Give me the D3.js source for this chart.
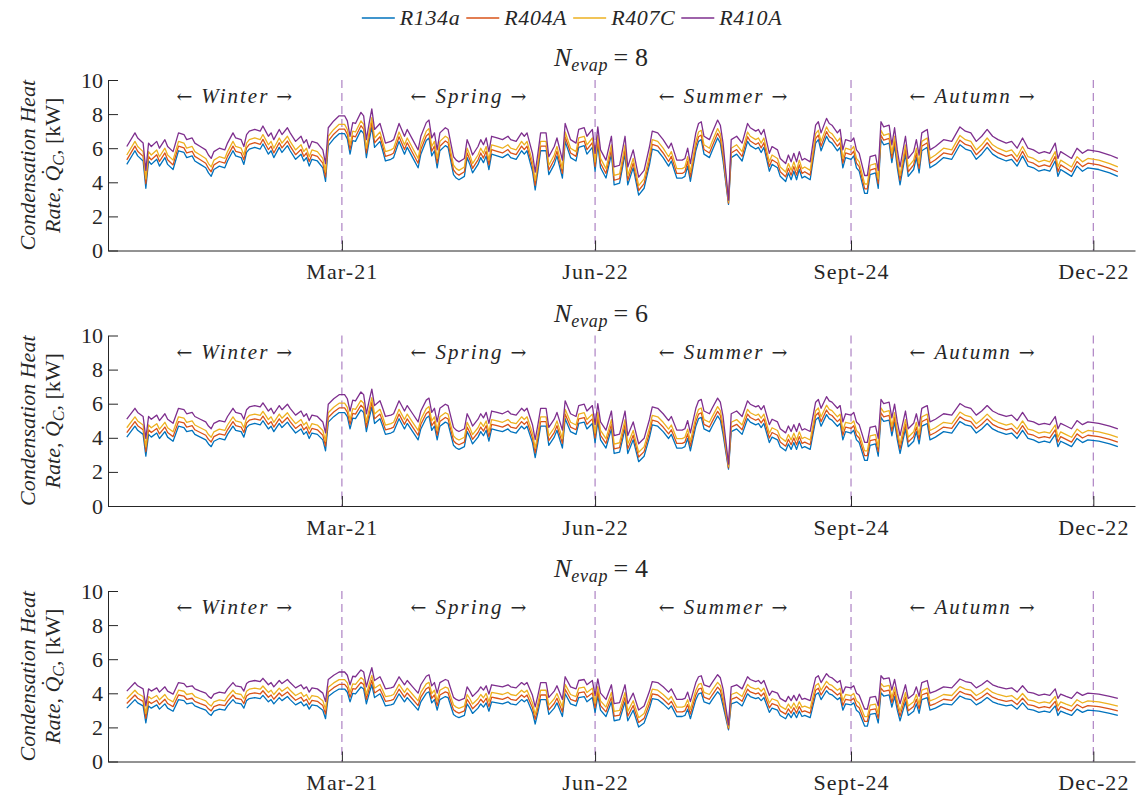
<!DOCTYPE html>
<html>
<head>
<meta charset="utf-8">
<title>Condensation heat rate</title>
<script src="https://cdn.jsdelivr.net/npm/d3@7"></script>
<style>
  html, body { margin: 0; padding: 0; background: #ffffff; }
  svg text { font-family: "Liberation Serif", "DejaVu Serif", serif; fill: #262626; }
</style>
</head>
<body>
<svg id="chart" width="1137" height="798"></svg>
<script>
// Day of year of each sample (shared by all series)
const days = [
  1,4,5,7,8,9,10,12,13,15, 16,18,20,22,23,25,26,28,30,31, 32,33,35,37,38,40,41,43,44,45,
  46,48,50,51,52,53,54,55,57,58, 60,61,63,65,66,67,68,69,71,73, 74,75,77,79,81,82,83,84,85,87,
  88,89,90,91,92,94,95,96,98,99, 101,103,104,106,108,109,111,112,113,114, 115,116,118,119,121,
  122,123,125,126,127,128,130,131,132,133, 134,135,137,139,141,142,144,146,147,148,
  150,151,152,153,155,156,158,159,161,162, 164,166,167,169,170,172,173,174,175,177,
  179,180,182,184,185,187,189,191,193,194, 196,198,200,201,203,205,206,207,208,210,
  211,212,213,215,216,218,219,220,222,223, 225,227,229,230,232,233,234,235,237,238, 240,241,243,
  244,245,246,247,248,249,250,252,254,255, 256,258,259,260,262,263,264,265,267,268,
  269,270,272,273,274,276,277,278,279,281, 282,283,284,285,287,288,290,291,292,293,
  294,295,296,298,301,304,307,309,311,313, 315,317,319,321,324,326,328,330,332,334,
  336,338,340,342,343,344,346,348,350,352, 354,358,362,365
];

// N_evap = 8, condensation heat rate [kW]
const n8_R134a = [
  5.05,5.85,5.55,5.25,3.65,5.25,5.05,5.35,4.95,5.45, 5.05,4.75,5.85,5.75,5.45,5.55,5.25,5.05,4.85,4.55,
  4.35,4.75,4.95,4.85,5.25,5.85,5.55,5.45,5.05,5.75, 5.95,6.05,5.95,6.25,5.95,5.65,5.85,5.45,6.05,5.75,
  6.15,5.85,5.35,5.65,5.25,5.45,4.95,5.35,5.25,4.85, 4.05,6.15,6.55,6.85,6.85,6.55,5.65,6.45,6.4,7.05,
  6.85,5.45,6.4,7.25,6.05,6.4,5.85,5.25,5.35,5.45, 6.4,5.65,6.05,5.45,4.85,5.65,6.45,6.6,5.55,5.85,
  4.85,5.85,6.15,6.05,4.45,
  4.25,4.15,4.35,5.45,5.05,4.55,5.05,5.45,5.15,5.55, 4.75,5.65,5.55,5.45,5.65,5.45,5.35,5.85,5.65,5.85,
  4.65,3.55,4.65,5.85,5.85,4.45,5.05,5.55,4.25,6.4, 5.45,5.25,6.05,6.15,5.65,6.05,4.65,6.2,4.85,4.25,
  5.65,3.85,3.95,5.65,3.85,4.85,3.25,3.65,5.05,5.95, 5.85,5.45,4.95,5.25,4.25,4.25,4.35,4.95,4.05,5.85,
  6.4,6.5,5.65,5.45,5.85,6.6,6.3,5.25,2.7,5.45, 5.65,5.25,6.4,6.15,5.95,6.05,5.75,6.05,4.65,5.05,
  4.85,4.35,4.05,
  4.55,4.15,4.65,4.15,4.75,4.25,4.35,4.15,6.3,6.5, 5.85,6.7,6.4,6.3,5.85,6.05,4.85,5.45,5.35,5.55,
  4.85,4.65,3.35,3.35,4.45,4.55,3.65,6.5,6.2,6.3, 5.15,6.15,4.85,3.85,5.65,4.35,4.75,5.45,4.55,5.85,
  5.95,6.05,4.85,5.05,5.45,5.35,6.2,5.95,5.85,5.35, 5.65,6.05,5.65,5.45,5.25,5.35,4.95,5.55,4.95,4.85,
  4.65,4.75,4.65,5.25,4.35,4.75,4.55,4.35,4.95,4.65, 4.85,4.75,4.55,4.35
];
const n8_R404A = [
  5.32,6.12,5.82,5.52,3.92,5.52,5.32,5.62,5.22,5.72, 5.32,5.02,6.12,6.02,5.72,5.82,5.52,5.32,5.12,4.82,
  4.62,5.02,5.22,5.12,5.52,6.12,5.82,5.72,5.32,6.02, 6.22,6.32,6.22,6.52,6.22,5.92,6.12,5.72,6.32,6.02,
  6.42,6.12,5.62,5.92,5.52,5.72,5.22,5.62,5.52,5.12, 4.32,6.42,6.82,7.12,7.12,6.82,5.92,6.72,6.67,7.32,
  7.12,5.72,6.67,7.52,6.32,6.67,6.12,5.52,5.62,5.72, 6.67,5.92,6.32,5.72,5.12,5.92,6.72,6.87,5.82,6.12,
  5.12,6.12,6.42,6.32,4.72,
  4.52,4.42,4.62,5.72,5.32,4.82,5.32,5.72,5.42,5.82, 5.02,5.92,5.82,5.72,5.92,5.72,5.62,6.12,5.92,6.12,
  4.92,3.82,4.92,6.12,6.12,4.72,5.32,5.82,4.52,6.67, 5.72,5.52,6.32,6.42,5.92,6.32,4.92,6.47,5.12,4.52,
  5.92,4.12,4.22,5.92,4.12,5.12,3.52,3.92,5.32,6.22, 6.12,5.72,5.22,5.52,4.52,4.52,4.62,5.22,4.32,6.12,
  6.67,6.77,5.92,5.72,6.12,6.87,6.57,5.52,2.78,5.72, 5.92,5.52,6.67,6.42,6.22,6.32,6.02,6.32,4.92,5.32,
  5.12,4.62,4.32,
  4.82,4.42,4.92,4.42,5.02,4.52,4.62,4.42,6.57,6.77, 6.12,6.97,6.67,6.57,6.12,6.32,5.12,5.72,5.62,5.82,
  5.12,4.92,3.62,3.62,4.72,4.82,3.92,6.77,6.47,6.57, 5.42,6.42,5.12,4.12,5.92,4.62,5.02,5.72,4.82,6.12,
  6.22,6.32,5.12,5.32,5.72,5.62,6.47,6.22,6.12,5.62, 5.92,6.32,5.92,5.72,5.52,5.62,5.22,5.82,5.22,5.12,
  4.92,5.02,4.92,5.52,4.62,5.02,4.82,4.62,5.22,4.92, 5.12,5.02,4.82,4.62
];
const n8_R407C = [
  5.6,6.4,6.1,5.8,4.2,5.8,5.6,5.9,5.5,6.0, 5.6,5.3,6.4,6.3,6.0,6.1,5.8,5.6,5.4,5.1,
  4.9,5.3,5.5,5.4,5.8,6.4,6.1,6.0,5.6,6.3, 6.5,6.6,6.5,6.8,6.5,6.2,6.4,6.0,6.6,6.3,
  6.7,6.4,5.9,6.2,5.8,6.0,5.5,5.9,5.8,5.4, 4.6,6.7,7.1,7.4,7.4,7.1,6.2,7.0,6.95,7.6,
  7.4,6.0,6.95,7.8,6.6,6.95,6.4,5.8,5.9,6.0, 6.95,6.2,6.6,6.0,5.4,6.2,7.0,7.15,6.1,6.4,
  5.4,6.4,6.7,6.6,5.0,
  4.8,4.7,4.9,6.0,5.6,5.1,5.6,6.0,5.7,6.1, 5.3,6.2,6.1,6.0,6.2,6.0,5.9,6.4,6.2,6.4,
  5.2,4.1,5.2,6.4,6.4,5.0,5.6,6.1,4.8,6.95, 6.0,5.8,6.6,6.7,6.2,6.6,5.2,6.75,5.4,4.8,
  6.2,4.4,4.5,6.2,4.4,5.4,3.8,4.2,5.6,6.5, 6.4,6.0,5.5,5.8,4.8,4.8,4.9,5.5,4.6,6.4,
  6.95,7.05,6.2,6.0,6.4,7.15,6.85,5.8,2.85,6.0, 6.2,5.8,6.95,6.7,6.5,6.6,6.3,6.6,5.2,5.6,
  5.4,4.9,4.6,
  5.1,4.7,5.2,4.7,5.3,4.8,4.9,4.7,6.85,7.05, 6.4,7.25,6.95,6.85,6.4,6.6,5.4,6.0,5.9,6.1,
  5.4,5.2,3.9,3.9,5.0,5.1,4.2,7.05,6.75,6.85, 5.7,6.7,5.4,4.4,6.2,4.9,5.3,6.0,5.1,6.4,
  6.5,6.6,5.4,5.6,6.0,5.9,6.75,6.5,6.4,5.9, 6.2,6.6,6.2,6.0,5.8,5.9,5.5,6.1,5.5,5.4,
  5.2,5.3,5.2,5.8,4.9,5.3,5.1,4.9,5.5,5.2, 5.4,5.3,5.1,4.9
];
const n8_R410A = [
  6.1,6.9,6.6,6.3,4.7,6.3,6.1,6.4,6.0,6.5, 6.1,5.8,6.9,6.8,6.5,6.6,6.3,6.1,5.9,5.6,
  5.4,5.8,6.0,5.9,6.3,6.9,6.6,6.5,6.1,6.8, 7.0,7.1,7.0,7.3,7.0,6.7,6.9,6.5,7.1,6.8,
  7.2,6.9,6.4,6.7,6.3,6.5,6.0,6.4,6.3,5.9, 5.1,7.2,7.6,7.9,7.9,7.6,6.7,7.5,7.45,8.1,
  7.9,6.5,7.45,8.3,7.1,7.45,6.9,6.3,6.4,6.5, 7.45,6.7,7.1,6.5,5.9,6.7,7.5,7.65,6.6,6.9,
  5.9,6.9,7.2,7.1,5.5,
  5.3,5.2,5.4,6.5,6.1,5.6,6.1,6.5,6.2,6.6, 5.8,6.7,6.6,6.5,6.7,6.5,6.4,6.9,6.7,6.9,
  5.7,4.6,5.7,6.9,6.9,5.5,6.1,6.6,5.3,7.45, 6.5,6.3,7.1,7.2,6.7,7.1,5.7,7.25,5.9,5.3,
  6.7,4.9,5.0,6.7,4.9,5.9,4.3,4.7,6.1,7.0, 6.9,6.5,6.0,6.3,5.3,5.3,5.4,6.0,5.1,6.9,
  7.45,7.55,6.7,6.5,6.9,7.65,7.35,6.3,2.95,6.5, 6.7,6.3,7.45,7.2,7.0,7.1,6.8,7.1,5.7,6.1,
  5.9,5.4,5.1,
  5.6,5.2,5.7,5.2,5.8,5.3,5.4,5.2,7.35,7.55, 6.9,7.75,7.45,7.35,6.9,7.1,5.9,6.5,6.4,6.6,
  5.9,5.7,4.4,4.4,5.5,5.6,4.7,7.55,7.25,7.35, 6.2,7.2,5.9,4.9,6.7,5.4,5.8,6.5,5.6,6.9,
  7.0,7.1,5.9,6.1,6.5,6.4,7.25,7.0,6.9,6.4, 6.7,7.1,6.7,6.5,6.3,6.4,6.0,6.6,6.0,5.9,
  5.7,5.8,5.7,6.3,5.4,5.8,5.6,5.4,6.0,5.7, 5.9,5.8,5.6,5.4
];

// N_evap = 6
const n6_R134a = [
  4.04,4.68,4.44,4.2,2.92,4.2,4.04,4.28,3.96,4.36, 4.04,3.8,4.68,4.6,4.36,4.44,4.2,4.04,3.88,3.64,
  3.48,3.8,3.96,3.88,4.2,4.68,4.44,4.36,4.04,4.6, 4.76,4.84,4.76,5.0,4.76,4.52,4.68,4.36,4.84,4.6,
  4.92,4.68,4.28,4.52,4.2,4.36,3.96,4.28,4.2,3.88, 3.24,4.92,5.24,5.48,5.48,5.24,4.52,5.16,5.12,5.64,
  5.48,4.36,5.12,5.8,4.84,5.12,4.68,4.2,4.28,4.36, 5.12,4.52,4.84,4.36,3.88,4.52,5.16,5.28,4.44,4.68,
  3.88,4.68,4.92,4.84,3.56,
  3.4,3.32,3.48,4.36,4.04,3.64,4.04,4.36,4.12,4.44, 3.8,4.52,4.44,4.36,4.52,4.36,4.28,4.68,4.52,4.68,
  3.72,2.84,3.72,4.68,4.68,3.56,4.04,4.44,3.4,5.12, 4.36,4.2,4.84,4.92,4.52,4.84,3.72,4.96,3.88,3.4,
  4.52,3.08,3.16,4.52,3.08,3.88,2.6,2.92,4.04,4.76, 4.68,4.36,3.96,4.2,3.4,3.4,3.48,3.96,3.24,4.68,
  5.12,5.2,4.52,4.36,4.68,5.28,5.04,4.2,2.16,4.36, 4.52,4.2,5.12,4.92,4.76,4.84,4.6,4.84,3.72,4.04,
  3.88,3.48,3.24,
  3.64,3.32,3.72,3.32,3.8,3.4,3.48,3.32,5.04,5.2, 4.68,5.36,5.12,5.04,4.68,4.84,3.88,4.36,4.28,4.44,
  3.88,3.72,2.68,2.68,3.56,3.64,2.92,5.2,4.96,5.04, 4.12,4.92,3.88,3.08,4.52,3.48,3.8,4.36,3.64,4.68,
  4.76,4.84,3.88,4.04,4.36,4.28,4.96,4.76,4.68,4.28, 4.52,4.84,4.52,4.36,4.2,4.28,3.96,4.44,3.96,3.88,
  3.72,3.8,3.72,4.2,3.48,3.8,3.64,3.48,3.96,3.72, 3.88,3.8,3.64,3.48
];
const n6_R404A = [
  4.31,4.95,4.71,4.47,3.19,4.47,4.31,4.55,4.23,4.63, 4.31,4.07,4.95,4.87,4.63,4.71,4.47,4.31,4.15,3.91,
  3.75,4.07,4.23,4.15,4.47,4.95,4.71,4.63,4.31,4.87, 5.03,5.11,5.03,5.27,5.03,4.79,4.95,4.63,5.11,4.87,
  5.19,4.95,4.55,4.79,4.47,4.63,4.23,4.55,4.47,4.15, 3.51,5.19,5.51,5.75,5.75,5.51,4.79,5.43,5.39,5.91,
  5.75,4.63,5.39,6.07,5.11,5.39,4.95,4.47,4.55,4.63, 5.39,4.79,5.11,4.63,4.15,4.79,5.43,5.55,4.71,4.95,
  4.15,4.95,5.19,5.11,3.83,
  3.67,3.59,3.75,4.63,4.31,3.91,4.31,4.63,4.39,4.71, 4.07,4.79,4.71,4.63,4.79,4.63,4.55,4.95,4.79,4.95,
  3.99,3.11,3.99,4.95,4.95,3.83,4.31,4.71,3.67,5.39, 4.63,4.47,5.11,5.19,4.79,5.11,3.99,5.23,4.15,3.67,
  4.79,3.35,3.43,4.79,3.35,4.15,2.87,3.19,4.31,5.03, 4.95,4.63,4.23,4.47,3.67,3.67,3.75,4.23,3.51,4.95,
  5.39,5.47,4.79,4.63,4.95,5.55,5.31,4.47,2.24,4.63, 4.79,4.47,5.39,5.19,5.03,5.11,4.87,5.11,3.99,4.31,
  4.15,3.75,3.51,
  3.91,3.59,3.99,3.59,4.07,3.67,3.75,3.59,5.31,5.47, 4.95,5.63,5.39,5.31,4.95,5.11,4.15,4.63,4.55,4.71,
  4.15,3.99,2.95,2.95,3.83,3.91,3.19,5.47,5.23,5.31, 4.39,5.19,4.15,3.35,4.79,3.75,4.07,4.63,3.91,4.95,
  5.03,5.11,4.15,4.31,4.63,4.55,5.23,5.03,4.95,4.55, 4.79,5.11,4.79,4.63,4.47,4.55,4.23,4.71,4.23,4.15,
  3.99,4.07,3.99,4.47,3.75,4.07,3.91,3.75,4.23,3.99, 4.15,4.07,3.91,3.75
];
const n6_R407C = [
  4.59,5.23,4.99,4.75,3.47,4.75,4.59,4.83,4.51,4.91, 4.59,4.35,5.23,5.15,4.91,4.99,4.75,4.59,4.43,4.19,
  4.03,4.35,4.51,4.43,4.75,5.23,4.99,4.91,4.59,5.15, 5.31,5.39,5.31,5.55,5.31,5.07,5.23,4.91,5.39,5.15,
  5.47,5.23,4.83,5.07,4.75,4.91,4.51,4.83,4.75,4.43, 3.79,5.47,5.79,6.03,6.03,5.79,5.07,5.71,5.67,6.19,
  6.03,4.91,5.67,6.35,5.39,5.67,5.23,4.75,4.83,4.91, 5.67,5.07,5.39,4.91,4.43,5.07,5.71,5.83,4.99,5.23,
  4.43,5.23,5.47,5.39,4.11,
  3.95,3.87,4.03,4.91,4.59,4.19,4.59,4.91,4.67,4.99, 4.35,5.07,4.99,4.91,5.07,4.91,4.83,5.23,5.07,5.23,
  4.27,3.39,4.27,5.23,5.23,4.11,4.59,4.99,3.95,5.67, 4.91,4.75,5.39,5.47,5.07,5.39,4.27,5.51,4.43,3.95,
  5.07,3.63,3.71,5.07,3.63,4.43,3.15,3.47,4.59,5.31, 5.23,4.91,4.51,4.75,3.95,3.95,4.03,4.51,3.79,5.23,
  5.67,5.75,5.07,4.91,5.23,5.83,5.59,4.75,2.32,4.91, 5.07,4.75,5.67,5.47,5.31,5.39,5.15,5.39,4.27,4.59,
  4.43,4.03,3.79,
  4.19,3.87,4.27,3.87,4.35,3.95,4.03,3.87,5.59,5.75, 5.23,5.91,5.67,5.59,5.23,5.39,4.43,4.91,4.83,4.99,
  4.43,4.27,3.23,3.23,4.11,4.19,3.47,5.75,5.51,5.59, 4.67,5.47,4.43,3.63,5.07,4.03,4.35,4.91,4.19,5.23,
  5.31,5.39,4.43,4.59,4.91,4.83,5.51,5.31,5.23,4.83, 5.07,5.39,5.07,4.91,4.75,4.83,4.51,4.99,4.51,4.43,
  4.27,4.35,4.27,4.75,4.03,4.35,4.19,4.03,4.51,4.27, 4.43,4.35,4.19,4.03
];
const n6_R410A = [
  5.09,5.73,5.49,5.25,3.97,5.25,5.09,5.33,5.01,5.41, 5.09,4.85,5.73,5.65,5.41,5.49,5.25,5.09,4.93,4.69,
  4.53,4.85,5.01,4.93,5.25,5.73,5.49,5.41,5.09,5.65, 5.81,5.89,5.81,6.05,5.81,5.57,5.73,5.41,5.89,5.65,
  5.97,5.73,5.33,5.57,5.25,5.41,5.01,5.33,5.25,4.93, 4.29,5.97,6.29,6.53,6.53,6.29,5.57,6.21,6.17,6.69,
  6.53,5.41,6.17,6.85,5.89,6.17,5.73,5.25,5.33,5.41, 6.17,5.57,5.89,5.41,4.93,5.57,6.21,6.33,5.49,5.73,
  4.93,5.73,5.97,5.89,4.61,
  4.45,4.37,4.53,5.41,5.09,4.69,5.09,5.41,5.17,5.49, 4.85,5.57,5.49,5.41,5.57,5.41,5.33,5.73,5.57,5.73,
  4.77,3.89,4.77,5.73,5.73,4.61,5.09,5.49,4.45,6.17, 5.41,5.25,5.89,5.97,5.57,5.89,4.77,6.01,4.93,4.45,
  5.57,4.13,4.21,5.57,4.13,4.93,3.65,3.97,5.09,5.81, 5.73,5.41,5.01,5.25,4.45,4.45,4.53,5.01,4.29,5.73,
  6.17,6.25,5.57,5.41,5.73,6.33,6.09,5.25,2.46,5.41, 5.57,5.25,6.17,5.97,5.81,5.89,5.65,5.89,4.77,5.09,
  4.93,4.53,4.29,
  4.69,4.37,4.77,4.37,4.85,4.45,4.53,4.37,6.09,6.25, 5.73,6.41,6.17,6.09,5.73,5.89,4.93,5.41,5.33,5.49,
  4.93,4.77,3.73,3.73,4.61,4.69,3.97,6.25,6.01,6.09, 5.17,5.97,4.93,4.13,5.57,4.53,4.85,5.41,4.69,5.73,
  5.81,5.89,4.93,5.09,5.41,5.33,6.01,5.81,5.73,5.33, 5.57,5.89,5.57,5.41,5.25,5.33,5.01,5.49,5.01,4.93,
  4.77,4.85,4.77,5.25,4.53,4.85,4.69,4.53,5.01,4.77, 4.93,4.85,4.69,4.53
];

// N_evap = 4
const n4_R134a = [
  3.13,3.63,3.44,3.26,2.26,3.26,3.13,3.32,3.07,3.38, 3.13,2.95,3.63,3.57,3.38,3.44,3.26,3.13,3.01,2.82,
  2.7,2.95,3.07,3.01,3.26,3.63,3.44,3.38,3.13,3.57, 3.69,3.75,3.69,3.88,3.69,3.5,3.63,3.38,3.75,3.57,
  3.81,3.63,3.32,3.5,3.26,3.38,3.07,3.32,3.26,3.01, 2.51,3.81,4.06,4.25,4.25,4.06,3.5,4.0,3.97,4.37,
  4.25,3.38,3.97,4.5,3.75,3.97,3.63,3.26,3.32,3.38, 3.97,3.5,3.75,3.38,3.01,3.5,4.0,4.09,3.44,3.63,
  3.01,3.63,3.81,3.75,2.76,
  2.64,2.57,2.7,3.38,3.13,2.82,3.13,3.38,3.19,3.44, 2.95,3.5,3.44,3.38,3.5,3.38,3.32,3.63,3.5,3.63,
  2.88,2.2,2.88,3.63,3.63,2.76,3.13,3.44,2.64,3.97, 3.38,3.26,3.75,3.81,3.5,3.75,2.88,3.84,3.01,2.64,
  3.5,2.39,2.45,3.5,2.39,3.01,2.02,2.26,3.13,3.69, 3.63,3.38,3.07,3.26,2.64,2.64,2.7,3.07,2.51,3.63,
  3.97,4.03,3.5,3.38,3.63,4.09,3.91,3.26,1.85,3.38, 3.5,3.26,3.97,3.81,3.69,3.75,3.57,3.75,2.88,3.13,
  3.01,2.7,2.51,
  2.82,2.57,2.88,2.57,2.95,2.64,2.7,2.57,3.91,4.03, 3.63,4.15,3.97,3.91,3.63,3.75,3.01,3.38,3.32,3.44,
  3.01,2.88,2.08,2.08,2.76,2.82,2.26,4.03,3.84,3.91, 3.19,3.81,3.01,2.39,3.5,2.7,2.95,3.38,2.82,3.63,
  3.69,3.75,3.01,3.13,3.38,3.32,3.84,3.69,3.63,3.32, 3.5,3.75,3.5,3.38,3.26,3.32,3.07,3.44,3.07,3.01,
  2.88,2.95,2.88,3.26,2.7,2.95,2.82,2.7,3.07,2.88, 3.01,2.95,2.82,2.7
];
const n4_R404A = [
  3.4,3.9,3.71,3.53,2.53,3.53,3.4,3.59,3.34,3.65, 3.4,3.22,3.9,3.84,3.65,3.71,3.53,3.4,3.28,3.09,
  2.97,3.22,3.34,3.28,3.53,3.9,3.71,3.65,3.4,3.84, 3.96,4.02,3.96,4.15,3.96,3.77,3.9,3.65,4.02,3.84,
  4.08,3.9,3.59,3.77,3.53,3.65,3.34,3.59,3.53,3.28, 2.78,4.08,4.33,4.52,4.52,4.33,3.77,4.27,4.24,4.64,
  4.52,3.65,4.24,4.77,4.02,4.24,3.9,3.53,3.59,3.65, 4.24,3.77,4.02,3.65,3.28,3.77,4.27,4.36,3.71,3.9,
  3.28,3.9,4.08,4.02,3.03,
  2.91,2.84,2.97,3.65,3.4,3.09,3.4,3.65,3.46,3.71, 3.22,3.77,3.71,3.65,3.77,3.65,3.59,3.9,3.77,3.9,
  3.15,2.47,3.15,3.9,3.9,3.03,3.4,3.71,2.91,4.24, 3.65,3.53,4.02,4.08,3.77,4.02,3.15,4.11,3.28,2.91,
  3.77,2.66,2.72,3.77,2.66,3.28,2.29,2.53,3.4,3.96, 3.9,3.65,3.34,3.53,2.91,2.91,2.97,3.34,2.78,3.9,
  4.24,4.3,3.77,3.65,3.9,4.36,4.18,3.53,1.93,3.65, 3.77,3.53,4.24,4.08,3.96,4.02,3.84,4.02,3.15,3.4,
  3.28,2.97,2.78,
  3.09,2.84,3.15,2.84,3.22,2.91,2.97,2.84,4.18,4.3, 3.9,4.42,4.24,4.18,3.9,4.02,3.28,3.65,3.59,3.71,
  3.28,3.15,2.35,2.35,3.03,3.09,2.53,4.3,4.11,4.18, 3.46,4.08,3.28,2.66,3.77,2.97,3.22,3.65,3.09,3.9,
  3.96,4.02,3.28,3.4,3.65,3.59,4.11,3.96,3.9,3.59, 3.77,4.02,3.77,3.65,3.53,3.59,3.34,3.71,3.34,3.28,
  3.15,3.22,3.15,3.53,2.97,3.22,3.09,2.97,3.34,3.15, 3.28,3.22,3.09,2.97
];
const n4_R407C = [
  3.68,4.18,3.99,3.81,2.81,3.81,3.68,3.87,3.62,3.93, 3.68,3.5,4.18,4.12,3.93,3.99,3.81,3.68,3.56,3.37,
  3.25,3.5,3.62,3.56,3.81,4.18,3.99,3.93,3.68,4.12, 4.24,4.3,4.24,4.43,4.24,4.05,4.18,3.93,4.3,4.12,
  4.36,4.18,3.87,4.05,3.81,3.93,3.62,3.87,3.81,3.56, 3.06,4.36,4.61,4.8,4.8,4.61,4.05,4.55,4.52,4.92,
  4.8,3.93,4.52,5.05,4.3,4.52,4.18,3.81,3.87,3.93, 4.52,4.05,4.3,3.93,3.56,4.05,4.55,4.64,3.99,4.18,
  3.56,4.18,4.36,4.3,3.31,
  3.19,3.12,3.25,3.93,3.68,3.37,3.68,3.93,3.74,3.99, 3.5,4.05,3.99,3.93,4.05,3.93,3.87,4.18,4.05,4.18,
  3.43,2.75,3.43,4.18,4.18,3.31,3.68,3.99,3.19,4.52, 3.93,3.81,4.3,4.36,4.05,4.3,3.43,4.39,3.56,3.19,
  4.05,2.94,3.0,4.05,2.94,3.56,2.57,2.81,3.68,4.24, 4.18,3.93,3.62,3.81,3.19,3.19,3.25,3.62,3.06,4.18,
  4.52,4.58,4.05,3.93,4.18,4.64,4.46,3.81,2.0,3.93, 4.05,3.81,4.52,4.36,4.24,4.3,4.12,4.3,3.43,3.68,
  3.56,3.25,3.06,
  3.37,3.12,3.43,3.12,3.5,3.19,3.25,3.12,4.46,4.58, 4.18,4.7,4.52,4.46,4.18,4.3,3.56,3.93,3.87,3.99,
  3.56,3.43,2.63,2.63,3.31,3.37,2.81,4.58,4.39,4.46, 3.74,4.36,3.56,2.94,4.05,3.25,3.5,3.93,3.37,4.18,
  4.24,4.3,3.56,3.68,3.93,3.87,4.39,4.24,4.18,3.87, 4.05,4.3,4.05,3.93,3.81,3.87,3.62,3.99,3.62,3.56,
  3.43,3.5,3.43,3.81,3.25,3.5,3.37,3.25,3.62,3.43, 3.56,3.5,3.37,3.25
];
const n4_R410A = [
  4.13,4.63,4.44,4.26,3.26,4.26,4.13,4.32,4.07,4.38, 4.13,3.95,4.63,4.57,4.38,4.44,4.26,4.13,4.01,3.82,
  3.7,3.95,4.07,4.01,4.26,4.63,4.44,4.38,4.13,4.57, 4.69,4.75,4.69,4.88,4.69,4.5,4.63,4.38,4.75,4.57,
  4.81,4.63,4.32,4.5,4.26,4.38,4.07,4.32,4.26,4.01, 3.51,4.81,5.06,5.25,5.25,5.06,4.5,5.0,4.97,5.37,
  5.25,4.38,4.97,5.5,4.75,4.97,4.63,4.26,4.32,4.38, 4.97,4.5,4.75,4.38,4.01,4.5,5.0,5.09,4.44,4.63,
  4.01,4.63,4.81,4.75,3.76,
  3.64,3.57,3.7,4.38,4.13,3.82,4.13,4.38,4.19,4.44, 3.95,4.5,4.44,4.38,4.5,4.38,4.32,4.63,4.5,4.63,
  3.88,3.2,3.88,4.63,4.63,3.76,4.13,4.44,3.64,4.97, 4.38,4.26,4.75,4.81,4.5,4.75,3.88,4.84,4.01,3.64,
  4.5,3.39,3.45,4.5,3.39,4.01,3.02,3.26,4.13,4.69, 4.63,4.38,4.07,4.26,3.64,3.64,3.7,4.07,3.51,4.63,
  4.97,5.03,4.5,4.38,4.63,5.09,4.91,4.26,2.15,4.38, 4.5,4.26,4.97,4.81,4.69,4.75,4.57,4.75,3.88,4.13,
  4.01,3.7,3.51,
  3.82,3.57,3.88,3.57,3.95,3.64,3.7,3.57,4.91,5.03, 4.63,5.15,4.97,4.91,4.63,4.75,4.01,4.38,4.32,4.44,
  4.01,3.88,3.08,3.08,3.76,3.82,3.26,5.03,4.84,4.91, 4.19,4.81,4.01,3.39,4.5,3.7,3.95,4.38,3.82,4.63,
  4.69,4.75,4.01,4.13,4.38,4.32,4.84,4.69,4.63,4.32, 4.5,4.75,4.5,4.38,4.26,4.32,4.07,4.44,4.07,4.01,
  3.88,3.95,3.88,4.26,3.7,3.95,3.82,3.7,4.07,3.88, 4.01,3.95,3.82,3.7
];

const seriesNames = ["R134a", "R404A", "R407C", "R410A"];
const seriesColors = ["#0072BD", "#D95319", "#EDB120", "#7E2F8E"];
const evapCounts = [8, 6, 4];
const seasonNames = ["Winter", "Spring", "Summer", "Autumn"];
const boundaryDays = [80, 173, 267, 356];
const boundaryLabels = ["Mar-21", "Jun-22", "Sept-24", "Dec-22"];
const yTickValues = [0, 2, 4, 6, 8, 10];

const panelSeries = [
  [n8_R134a, n8_R404A, n8_R407C, n8_R410A],
  [n6_R134a, n6_R404A, n6_R407C, n6_R410A],
  [n4_R134a, n4_R404A, n4_R407C, n4_R410A]
];

const svg = d3.select("#chart");
const axisColor = "#262626";
const fs = 22;

const x = d3.scaleLinear().domain([-5.9, 371.3]).range([108, 1135]);
const panelTops = [80, 335.5, 591];
const panelHeight = 170.5;

// Legend across the top
const legend = svg.append("g");
let lx = 0;
seriesNames.forEach((name, k) => {
  const item = legend.append("g").attr("transform", `translate(${lx},0)`);
  item.append("line").attr("x1", 0).attr("x2", 33).attr("y1", 18).attr("y2", 18)
    .attr("stroke", seriesColors[k]).attr("stroke-width", 1.3);
  const t = item.append("text").attr("x", 38).attr("y", 25)
    .attr("font-size", 22).attr("font-style", "italic").attr("letter-spacing", 0.6).text(name);
  lx += 38 + t.node().getComputedTextLength() + 6;
});
legend.attr("transform", `translate(${575 - lx / 2},0)`);

const seasonStarts = [1].concat(boundaryDays.slice(0, 3));

panelSeries.forEach((series, p) => {
  const top = panelTops[p];
  const bottom = top + panelHeight;
  const y = d3.scaleLinear().domain([0, 10]).range([bottom, top]);
  const g = svg.append("g");

  // Season boundaries
  g.selectAll("line.bound").data(boundaryDays).join("line").attr("class", "bound")
    .attr("x1", d => x(d)).attr("x2", d => x(d))
    .attr("y1", top).attr("y2", bottom)
    .attr("stroke", "#b48cc8").attr("stroke-width", 1.3)
    .attr("stroke-dasharray", "8,5");

  // Refrigerant series
  const line = d3.line().x((d, i) => x(days[i])).y(d => y(d));
  series.forEach((vals, k) => {
    g.append("path").datum(vals)
      .attr("d", line)
      .attr("fill", "none")
      .attr("stroke", seriesColors[k])
      .attr("stroke-width", 1.3)
      .attr("stroke-linejoin", "round");
  });

  // Axes
  const xAxis = d3.axisBottom(x)
    .tickValues(boundaryDays)
    .tickFormat((d, i) => boundaryLabels[i])
    .tickSizeInner(-10).tickSizeOuter(0).tickPadding(13);
  const gx = g.append("g").attr("transform", `translate(0,${bottom})`).call(xAxis);
  gx.selectAll("text").attr("letter-spacing", 1.1);
  const yAxis = d3.axisLeft(y)
    .tickValues(yTickValues)
    .tickSizeInner(-10).tickSizeOuter(0).tickPadding(5);
  const gy = g.append("g").attr("transform", `translate(108,0)`).call(yAxis);
  [gx, gy].forEach(a => {
    a.attr("color", axisColor).attr("font-size", fs);
    a.selectAll("path, line").attr("stroke-width", 1);
  });

  // Season labels
  seasonNames.forEach((name, i) => {
    const mid = (seasonStarts[i] + boundaryDays[i]) / 2;
    const t = g.append("text").attr("x", x(mid)).attr("y", top + 23)
      .attr("text-anchor", "middle").attr("font-size", 21);
    t.append("tspan").attr("font-family", "DejaVu Serif").attr("font-size", 19).text("\u2190");
    t.append("tspan").attr("dx", 9).attr("font-style", "italic").attr("letter-spacing", 2).text(name);
    t.append("tspan").attr("dx", 7).attr("font-family", "DejaVu Serif").attr("font-size", 19).text("\u2192");
  });

  // Panel title
  const title = g.append("text").attr("x", 601).attr("y", top - 14)
    .attr("text-anchor", "middle").attr("font-size", 26);
  title.append("tspan").attr("font-style", "italic").text("N");
  title.append("tspan").attr("font-style", "italic").attr("font-size", 18)
    .attr("letter-spacing", 0.8).attr("dy", 5).text("evap");
  title.append("tspan").attr("dy", -5).attr("dx", 5).text("=");
  title.append("tspan").attr("dx", 7).text(evapCounts[p]);

  // Y-axis label (two lines)
  const cy = (top + bottom) / 2;
  g.append("text").attr("transform", `translate(35,${cy}) rotate(-90)`)
    .attr("text-anchor", "middle").attr("font-size", 22)
    .attr("font-style", "italic")
    .text("Condensation Heat");
  const l2 = g.append("text").attr("transform", `translate(60,${cy}) rotate(-90)`)
    .attr("text-anchor", "middle").attr("font-size", 22);
  l2.append("tspan").attr("font-style", "italic").text("Rate, Q\u0307");
  l2.append("tspan").attr("font-style", "italic").attr("font-size", 16).attr("dy", 4).text("C");
  l2.append("tspan").attr("dy", -4).text(", [kW]");
});
</script>
</body>
</html>
